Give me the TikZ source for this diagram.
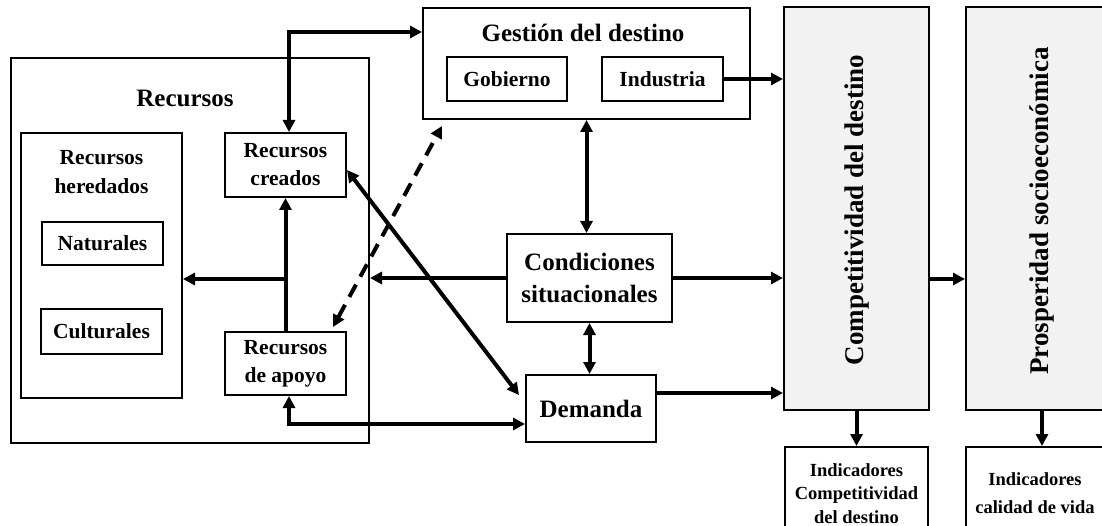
\documentclass[tikz,border=0pt]{standalone}
\usepackage{fontspec}
\setmainfont{Liberation Serif}
\usetikzlibrary{arrows.meta}

\begin{document}
\begin{tikzpicture}[x=1pt,y=-1pt,
	caja/.style={draw, line width=2pt, inner sep=0pt, align=center, font=\bfseries\fontsize{21.5}{28}\selectfont},
	grande/.style={caja, font=\bfseries\fontsize{25}{32}\selectfont},
	gris/.style={caja, fill=black!5},
	chica/.style={caja, font=\bfseries\fontsize{18.5}{23.5}\selectfont},
	titulo/.style={inner sep=0pt, font=\bfseries\fontsize{25}{30}\selectfont},
	texto/.style={inner sep=0pt, align=center, font=\bfseries\fontsize{21.5}{29}\selectfont},
	vertical/.style={inner sep=0pt, rotate=90, font=\bfseries\fontsize{27}{30}\selectfont},
	flecha/.style={line width=4pt, -{Triangle[length=12pt,width=12pt]}},
	doble/.style={line width=4pt, {Triangle[length=12pt,width=12pt]}-{Triangle[length=12pt,width=12pt]}},
	]
	\useasboundingbox (0,0) rectangle (1102,526);
	
	% recursos
	\node[caja, minimum width=358pt, minimum height=385pt] (recursos) at (190,250.5) {};
	\node[titulo] (trecursos) at (185,98) {Recursos};
		\node[caja, minimum width=161pt, minimum height=265pt] (heredados) at (101.5,265.5) {};
		\node[texto] (theredados) at (101.5,172.5) {Recursos\\heredados};
			\node[caja, minimum width=121pt, minimum height=43pt] (naturales) at (102.5,243.5) {Naturales};
			\node[caja, minimum width=121pt, minimum height=45pt] (culturales) at (101.5,331.5) {Culturales};
		\node[caja, minimum width=121pt, minimum height=64pt] (creados) at (285.5,165) {Recursos\\creados};
		\node[caja, minimum width=121pt, minimum height=63pt] (apoyo) at (285.5,363.5) {Recursos\\de apoyo};
	
	% gestion
	\node[caja, minimum width=327pt, minimum height=111pt] (gestion) at (586.5,63.5) {};
	\node[titulo] (tgestion) at (583,33) {Gestión del destino};
		\node[caja, minimum width=120pt, minimum height=44pt] (gobierno) at (507,79) {Gobierno};
		\node[caja, minimum width=121pt, minimum height=44pt] (industria) at (662.5,79) {Industria};
	
	\node[grande, minimum width=165pt, minimum height=88pt] (condiciones) at (589.5,278) {Condiciones\\situacionales};
	\node[grande, minimum width=130pt, minimum height=67pt] (demanda) at (591,408.5) {Demanda};
	
	% columnas grises
	\node[gris, minimum width=145pt, minimum height=403pt] (comp) at (856.5,208.5) {};
	\node[vertical] (tcomp) at (857,210) {Competitividad del destino};
	\node[gris, minimum width=152pt, minimum height=403pt] (prosp) at (1042,208.5) {};
	\node[vertical] (tprosp) at (1042,211) {Prosperidad socioeconómica};
		\node[chica, minimum width=143pt, minimum height=93pt] (indcomp) at (856.5,493.5) {Indicadores\\Competitividad\\del destino};
		\node[chica, font=\bfseries\fontsize{18.5}{28}\selectfont, minimum width=138pt, minimum height=93pt] (indcal) at (1035,493.5) {Indicadores\\calidad de vida};
	
	% flechas
	\coordinate (esq) at (289,32);
	\draw[doble] (esq |- creados.north) -- (esq) -- (esq -| gestion.west);
	\draw[flecha] (industria.east) -- (industria.east -| comp.west);
	\draw[doble] (gestion.south) -- (gestion.south |- condiciones.north);
	\draw[flecha] (condiciones.west) -- (condiciones.west -| recursos.east);
	\draw[flecha] (apoyo.north) -- (creados.south);
	\coordinate (rama) at (285.5,279);
	\draw[flecha] (rama) -- (rama -| heredados.east);
	\draw[flecha] (condiciones.east) -- (condiciones.east -| comp.west);
	\draw[doble] (condiciones.south) -- (condiciones.south |- demanda.north);
	\draw[flecha] ([yshift=15.5pt]demanda.east) -- ([yshift=15.5pt]demanda.east -| comp.west);
	\draw[doble] ([yshift=-5pt]creados.east) -- ([xshift=-6pt,yshift=-21pt]demanda.north west);
	\draw[doble, dash pattern=on 14pt off 9pt] ([xshift=-14pt,yshift=4pt]apoyo.north east) -- ([xshift=20pt,yshift=-6pt]gestion.south west);
	\coordinate (esq2) at (289,424);
	\draw[doble] (esq2 |- apoyo.south) -- (esq2) -- (esq2 -| demanda.west);
	\draw[flecha] (comp.east |- rama) -- (prosp.west |- rama);
	\draw[flecha] (comp.south) -- (indcomp.north);
	\draw[flecha] (prosp.south) -- (prosp.south |- indcal.north);
\end{tikzpicture}
\end{document}
